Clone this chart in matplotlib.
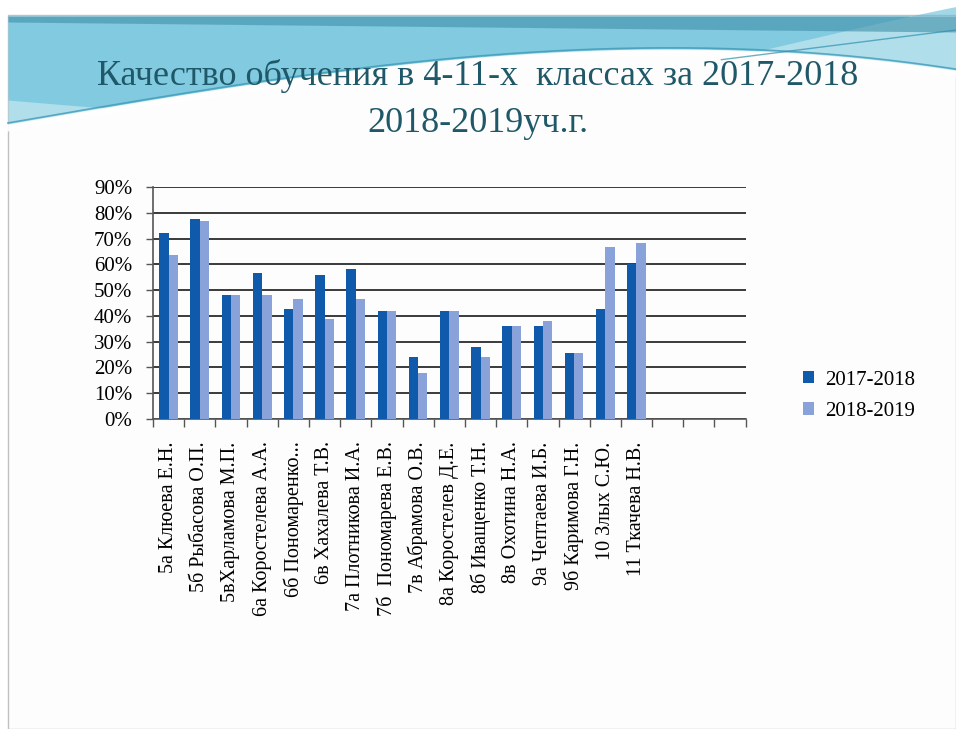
import numpy as np
import matplotlib
matplotlib.use('Agg')
import matplotlib.pyplot as plt
from matplotlib.ticker import PercentFormatter

# data
names = ['5а Клюева Е.Н.', '5б Рыбасова О.П.', '5вХарламова М.П.',
         '6а Коростелева А.А.', '6б Пономаренко...', '6в Хахалева Т.В.',
         '7а Плотникова И.А.', '7б  Пономарева Е.В.', '7в Абрамова О.В.',
         '8а Коростелев Д.Е.', '8б Иващенко Т.Н.', '8в Охотина Н.А.',
         '9а Чептаева И.Б.', '9б Каримова Г.Н.', '10 Злых С.Ю.',
         '11 Ткачева Н.В.', '', '', '']
y2018 = [72, 77.5, 48, 56.5, 42.5, 55.8, 58, 42, 24, 42, 28, 36, 36, 25.6, 42.6, 60.3]
y2019 = [63.5, 76.8, 48, 48, 46.5, 38.8, 46.5, 42, 18, 42, 24, 36, 38, 25.6, 66.8, 68.3]
series = ['2017-2018', '2018-2019']

c_dark = '#0f5aab'
c_light = '#8aa2da'

plt.rcParams['font.family'] = ['Liberation Serif', 'DejaVu Serif']

fig = plt.figure(figsize=(9.56, 7.29), dpi=100)
fig.patch.set_facecolor('white')

# slide background with the blue swoosh on top
bg = fig.add_axes([0, 0, 1, 1], zorder=-5)
bg.set_xlim(0, 956)
bg.set_ylim(729, 0)
bg.axis('off')
bg.add_patch(plt.Rectangle((8, 15), 948, 714, fc='#fdfdfd', ec='#c0c0c0', lw=1))
xs = np.linspace(8, 956, 300)
t = (xs - 8) / 948
# lower edge of the light band: dips at the left, rises to the right
edge1 = 125 - 95 * np.sin(t * np.pi * 0.55) + 40 * t ** 3
edge2 = 100 - 70 * t + 40 * np.sin(t * np.pi * 1.2)
bg.fill_between(xs, 16, edge1, color='#a8dbea', alpha=0.9, lw=0)
bg.fill_between(xs, 16, np.minimum(edge1, edge2), color='#63bdd7', alpha=0.6, lw=0)
bg.fill_between(xs, 16, 22 + 10 * t, color='#3f8fa8', alpha=0.6, lw=0)
bg.plot(xs, edge1 + 3, color='white', lw=5, alpha=0.9)
bg.plot(xs, edge1 - 2, color='#3e9ab8', lw=1.2, alpha=0.8)
bg.plot(xs[t > 0.75], 30 + 120 * (1 - t[t > 0.75]), color='#2f8fae', lw=1.0, alpha=0.7)

fig.text(0.5, 0.896, 'Качество обучения в 4-11-х  классах за 2017-2018',
         ha='center', va='center', fontsize=26, color='#1f5868')
fig.text(0.5, 0.831, '2018-2019уч.г.', ha='center', va='center',
         fontsize=26, color='#1f5868')

ax = fig.add_axes([0.160, 0.4252, 0.620, 0.3183])
x = np.arange(len(y2018))
w = 0.3
ax.bar(x - w / 2, y2018, w, color=c_dark, label=series[0], zorder=3)
ax.bar(x + w / 2, y2019, w, color=c_light, label=series[1], zorder=3)

ax.set_xlim(-0.5, len(names) - 0.5)
ax.set_ylim(0, 90)
ax.set_yticks(np.arange(0, 91, 10))
ax.yaxis.set_major_formatter(PercentFormatter(decimals=0))
ax.tick_params(axis='y', labelsize=15, length=5, width=1, color='#555555', pad=10)
ax.grid(axis='y', color='#3a3a3a', lw=1.4, zorder=0)

ax.set_xticks(np.arange(len(names)))
ax.set_xticklabels(names, rotation=90, fontsize=14.5, va='top', ha='center')
ax.set_xticks(np.arange(len(names) + 1) - 0.5, minor=True)
ax.tick_params(axis='x', which='major', length=0, pad=16)
ax.tick_params(axis='x', which='minor', length=6, width=1, color='#555555')

for s in ['top', 'right']:
    ax.spines[s].set_visible(False)
ax.spines['left'].set_color('#555555')
ax.spines['bottom'].set_color('#555555')
ax.spines['left'].set_linewidth(1.2)
ax.spines['bottom'].set_linewidth(1.2)
ax.set_facecolor('none')

ax.legend(loc='center left', bbox_to_anchor=(1.065, 0.10), frameon=False,
          fontsize=15, handlelength=0.55, handleheight=0.55, labelspacing=0.6,
          handletextpad=0.5)

fig.savefig('out.png', dpi=100)
